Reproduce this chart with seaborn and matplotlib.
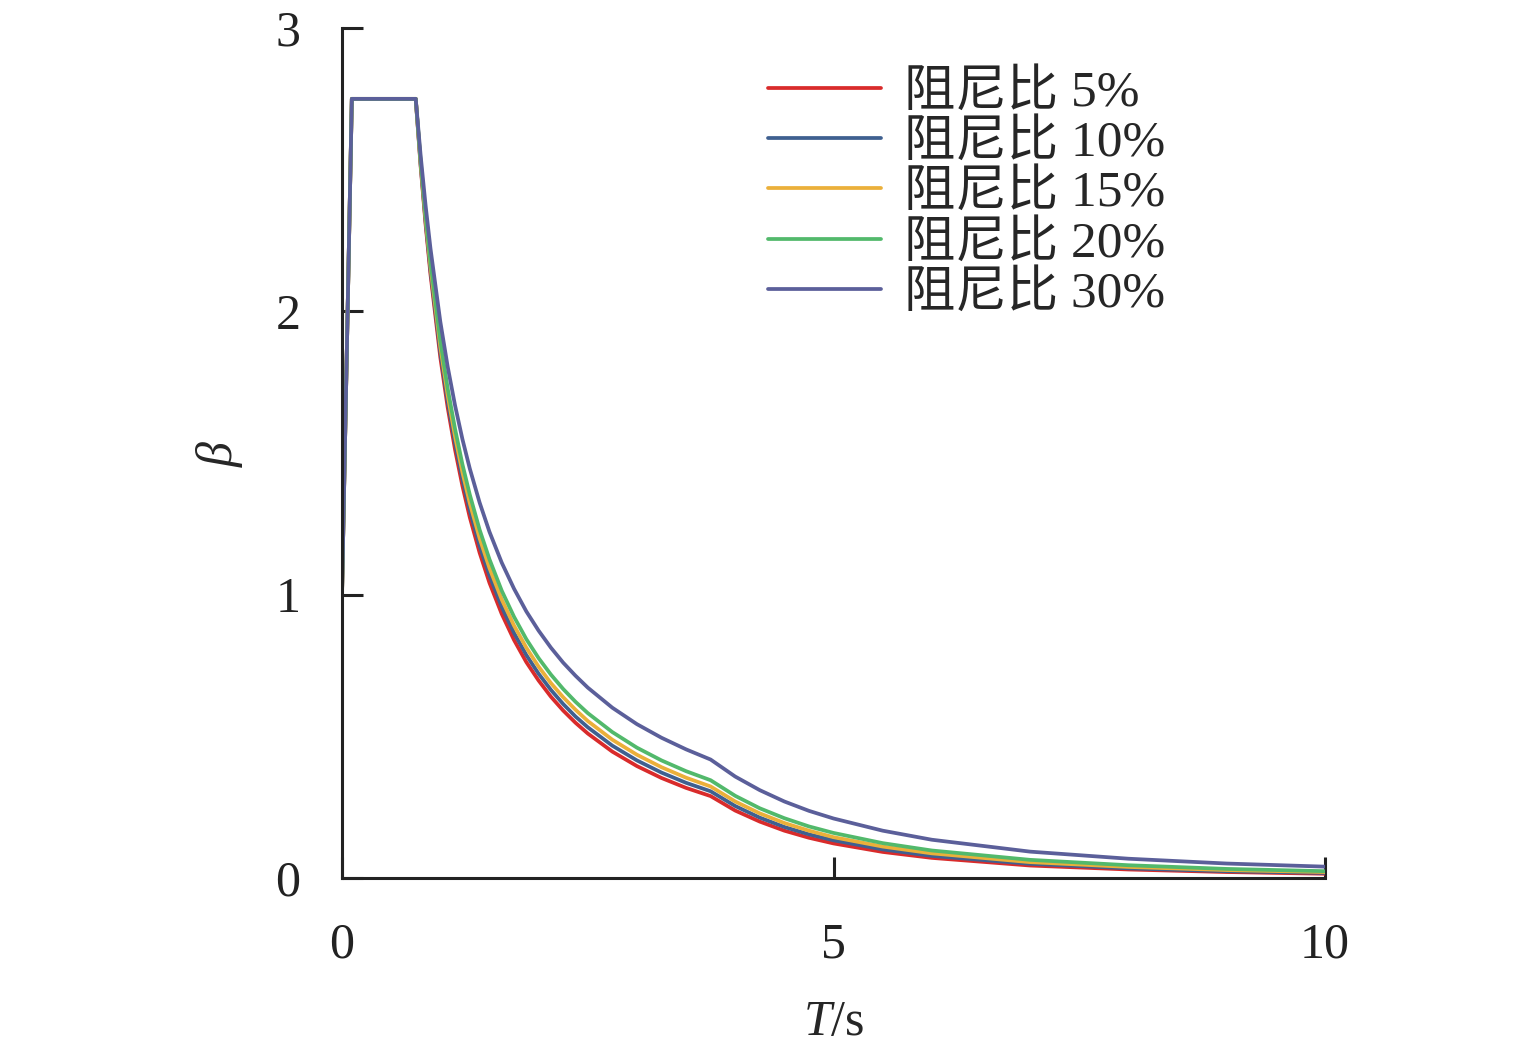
import numpy as np
import pandas as pd
import seaborn as sns
import matplotlib.pyplot as plt

T = [0, 0.1, 0.75, 0.8, 0.85, 0.9, 1.0, 1.075, 1.15, 1.225, 1.3, 1.4, 1.5, 1.625, 1.75, 1.875,
     2.0, 2.125, 2.25, 2.375, 2.5, 2.75, 3.0, 3.25, 3.5, 3.75, 4.0, 4.25, 4.5, 4.75, 5.0,
     5.5, 6.0, 7.0, 8.0, 9.0, 10.0]

beta_5 = [1.0, 2.75, 2.75, 2.512, 2.308, 2.131, 1.838, 1.661, 1.512, 1.384, 1.273, 1.148, 1.042,
          0.932, 0.840, 0.762, 0.697, 0.640, 0.591, 0.548, 0.510, 0.446, 0.395, 0.353, 0.318,
          0.289, 0.238, 0.199, 0.167, 0.142, 0.122, 0.092, 0.071, 0.044, 0.030, 0.021, 0.015]
beta_10 = [1.0, 2.75, 2.75, 2.518, 2.318, 2.144, 1.857, 1.682, 1.535, 1.408, 1.298, 1.173, 1.068,
           0.957, 0.865, 0.787, 0.721, 0.664, 0.614, 0.570, 0.532, 0.467, 0.415, 0.372, 0.336,
           0.306, 0.254, 0.213, 0.180, 0.154, 0.133, 0.101, 0.078, 0.050, 0.034, 0.024, 0.018]
beta_15 = [1.0, 2.75, 2.75, 2.524, 2.328, 2.158, 1.876, 1.704, 1.558, 1.432, 1.323, 1.199, 1.094,
           0.983, 0.891, 0.813, 0.746, 0.688, 0.638, 0.594, 0.554, 0.488, 0.435, 0.391, 0.354,
           0.323, 0.270, 0.228, 0.194, 0.167, 0.144, 0.111, 0.087, 0.056, 0.039, 0.028, 0.021]
beta_20 = [1.0, 2.75, 2.75, 2.530, 2.340, 2.174, 1.897, 1.728, 1.585, 1.460, 1.353, 1.229, 1.125,
           1.014, 0.922, 0.843, 0.776, 0.718, 0.667, 0.622, 0.582, 0.515, 0.460, 0.415, 0.377,
           0.345, 0.290, 0.246, 0.211, 0.182, 0.159, 0.123, 0.097, 0.064, 0.045, 0.032, 0.024]
beta_30 = [1.0, 2.75, 2.75, 2.550, 2.375, 2.222, 1.964, 1.805, 1.668, 1.549, 1.445, 1.325, 1.222,
           1.113, 1.021, 0.941, 0.873, 0.813, 0.760, 0.714, 0.672, 0.601, 0.543, 0.495, 0.454,
           0.418, 0.358, 0.310, 0.270, 0.237, 0.210, 0.167, 0.135, 0.093, 0.068, 0.051, 0.040]

labels = ['阻尼比 5%', '阻尼比 10%', '阻尼比 15%', '阻尼比 20%', '阻尼比 30%']
colors = ['#D92B2B', '#3F6090', '#EBB03A', '#52B96B', '#5B5F9A']

series = [beta_5, beta_10, beta_15, beta_20, beta_30]
df = pd.concat([pd.DataFrame({'T': T, 'beta': s, 'label': lab})
                for s, lab in zip(series, labels)], ignore_index=True)

sns.set_style('ticks')
plt.rcParams['font.family'] = ['Liberation Serif', 'Noto Sans CJK SC']
plt.rcParams['mathtext.fontset'] = 'custom'
plt.rcParams['mathtext.rm'] = 'Liberation Serif'
plt.rcParams['mathtext.it'] = 'Liberation Serif:italic'

fig = plt.figure(figsize=(15.35, 10.54), dpi=100)
ax = fig.add_axes([0.2228, 0.167, 0.6404, 0.8064])

sns.lineplot(data=df, x='T', y='beta', hue='label', hue_order=labels,
             palette=colors, linewidth=2.7, ax=ax, sort=False)

ax.set_xlim(0, 10)
ax.set_ylim(0, 3)
ax.set_xticks([0, 5, 10])
ax.set_yticks([0, 1, 2, 3])
ax.tick_params(direction='in', length=15, width=2.2, labelsize=36, colors='#222222')
ax.tick_params(axis='y', pad=30)
ax.tick_params(axis='x', pad=32)
for side in ['top', 'right']:
    ax.spines[side].set_visible(False)
for side in ['left', 'bottom']:
    ax.spines[side].set_linewidth(2.2)
    ax.spines[side].set_color('#222222')

ax.set_xlabel(r'$T$/s', fontsize=36, labelpad=22)
ax.set_ylabel(r'$\beta$', fontsize=36, labelpad=22)

leg = ax.legend(loc='upper left', bbox_to_anchor=(0.4334, 0.951), frameon=False,
                fontsize=37, handlelength=2.2, handletextpad=0.45, labelspacing=0.065,
                borderaxespad=0, borderpad=0)
for line in leg.get_lines():
    line.set_linewidth(2.7)

fig.savefig('out.png', dpi=100)
